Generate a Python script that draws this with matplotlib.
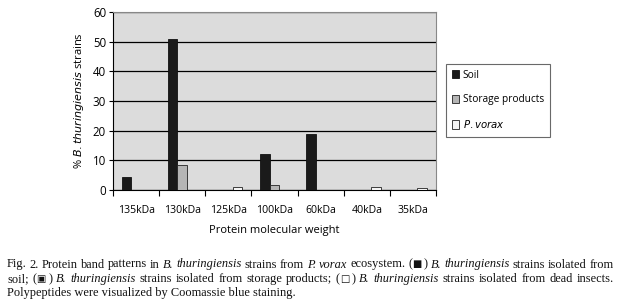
import matplotlib
matplotlib.use("Agg")
import matplotlib.pyplot as plt
import numpy as np
from matplotlib.patches import Patch

categories = ["135kDa", "130kDa", "125kDa", "100kDa", "60kDa", "40kDa", "35kDa"]
soil = [4.3, 51.0, 0, 12.3, 18.8, 0, 0]
storage = [0, 8.5, 0, 1.8, 0, 0, 0]
pvorax = [0, 0, 1.0, 0, 0, 1.0, 0.8]
series_names = ["Soil", "Storage products", "P. vorax"]
yticks = [0, 10, 20, 30, 40, 50, 60]

W, H = 621, 308
fig = plt.figure(figsize=(W / 100, H / 100), dpi=100)
ax = fig.add_axes([113 / W, 1 - 190 / H, (436 - 113) / W, (190 - 12) / H])
ax.set_facecolor("#dcdcdc")

x = np.arange(len(categories))
bw = 0.21
ax.bar(x - 0.21, soil, bw, color="#1a1a1a", edgecolor="#111111", linewidth=0.6, zorder=3)
ax.bar(x, storage, bw, color="#b5b5b5", edgecolor="#222222", linewidth=0.6, zorder=3)
ax.bar(x + 0.2, pvorax, bw, color="#f4f4f4", edgecolor="#222222", linewidth=0.6, zorder=3)

ax.set_xlim(-0.5, len(categories) - 0.5)
ax.set_ylim(0, 60)
ax.set_yticks(yticks)
ax.set_yticklabels([str(v) for v in yticks], fontsize=8.3, family="Open Sans")
ax.yaxis.grid(True, color="black", linewidth=0.9, zorder=1)
ax.set_axisbelow(True)

ax.set_xticks(np.arange(len(categories) + 1) - 0.5)
ax.set_xticklabels([])
ax.set_xticks(x, minor=True)
ax.set_xticklabels(categories, minor=True, fontsize=7.6, family="Open Sans")
ax.tick_params(axis="x", which="minor", length=0, pad=11)
ax.tick_params(axis="x", which="major", length=4, width=0.8, direction="out")
ax.tick_params(axis="y", length=3, width=0.8, pad=2)

for s in ["top", "right"]:
    ax.spines[s].set_color("#888888")
    ax.spines[s].set_linewidth(0.8)
for s in ["left", "bottom"]:
    ax.spines[s].set_color("black")
    ax.spines[s].set_linewidth(0.8)

ax.set_ylabel("% $\\it{B. thuringiensis}$ strains", fontsize=8, family="Open Sans", labelpad=5)
ax.set_xlabel("Protein molecular weight", fontsize=8, family="Open Sans", labelpad=6)

handles = [
    Patch(facecolor="#1a1a1a", edgecolor="#111111", linewidth=0.6),
    Patch(facecolor="#b5b5b5", edgecolor="#222222", linewidth=0.6),
    Patch(facecolor="#f4f4f4", edgecolor="#222222", linewidth=0.6),
]
leg = fig.legend(handles, ["Soil", "Storage products", "$\\it{P. vorax}$"],
                 loc="upper left", bbox_to_anchor=(446 / W, 1 - 64 / H), borderaxespad=0,
                 prop={"family": "Open Sans", "size": 7.3}, frameon=True,
                 fancybox=False, edgecolor="#444444", handlelength=0.7, handleheight=0.9,
                 labelspacing=1.35, handletextpad=0.4, borderpad=0.55)
leg.get_frame().set_linewidth(0.8)

# Caption with mixed styles, justified
fig.canvas.draw()
renderer = fig.canvas.get_renderer()
SERIF = "Liberation Serif"
SYM = "DejaVu Sans"

N, I = "normal", "italic"
lines = [
    ([("Fig. 2. Protein band patterns in ", N, SERIF), ("B. thuringiensis", I, SERIF),
      (" strains from ", N, SERIF), ("P. vorax", I, SERIF), (" ecosystem. (", N, SERIF),
      ("\u25a0", N, SYM), (") ", N, SERIF),
      ("B. thuringiensis", I, SERIF), (" strains isolated from", N, SERIF)], True),
    ([("soil; (", N, SERIF), ("\u25a3", N, SYM), (") ", N, SERIF), ("B. thuringiensis", I, SERIF),
      (" strains isolated from storage products; (", N, SERIF), ("\u25a1", N, SYM), (") ", N, SERIF),
      ("B. thuringiensis", I, SERIF),
      (" strains isolated from dead insects.", N, SERIF)], True),
    ([("Polypeptides were visualized by Coomassie blue staining.", N, SERIF)], False),
]
ys = [267.5, 281.8, 296]
x0, x1 = 7, 614

_cache = {}
def width_of(s, style, fam, size):
    key = (s, style, fam, size)
    if key not in _cache:
        t = fig.text(0, 0, s, fontsize=size, family=fam, style=style)
        _cache[key] = t.get_window_extent(renderer).width
        t.remove()
    return _cache[key]

def split_words(runs):
    tokens = []
    for s, st, fam in runs:
        parts = s.split(" ")
        for i, p in enumerate(parts):
            if i > 0:
                tokens.append((" ", st, fam))
            if p:
                tokens.append((p, st, fam))
    words, cur = [], []
    for tok in tokens:
        if tok[0] == " ":
            if cur:
                words.append(cur)
                cur = []
        else:
            cur.append(tok)
    if cur:
        words.append(cur)
    return words

def space_w(size):
    return width_of("a a", N, SERIF, size) - width_of("aa", N, SERIF, size)

# largest size at which each justified line fits with near-normal spacing
ref_sz = 10.0
sizes = []
for runs, justify in lines:
    if not justify:
        continue
    words = split_words(runs)
    tot = sum(sum(width_of(p, st, fam, ref_sz) for p, st, fam in w) for w in words)
    nat = tot + 1.0 * space_w(ref_sz) * (len(words) - 1)
    sizes.append(ref_sz * (x1 - x0) / nat)
cap_size = min(sizes)

for (runs, justify), yy in zip(lines, ys):
    if not justify:
        # plain line: one text object, natural spacing
        fig.text(x0 / W, 1 - yy / H, "".join(r[0] for r in runs), fontsize=cap_size,
                 family=SERIF, va="baseline", ha="left", color="#111111")
        continue
    words = split_words(runs)
    wwidths = [sum(width_of(p, st, fam, cap_size) for p, st, fam in w) for w in words]
    gap = (x1 - x0 - sum(wwidths)) / (len(words) - 1)
    xx = x0
    for w, ww in zip(words, wwidths):
        px = xx
        for p, st, fam in w:
            fs = cap_size * (0.8 if fam == SYM else 1.0)
            fig.text(px / W, 1 - yy / H, p, fontsize=fs, family=fam,
                     style=st, va="baseline", ha="left", color="#111111")
            px += width_of(p, st, fam, cap_size)
        xx += ww + gap

fig.savefig("out.png", dpi=100)
